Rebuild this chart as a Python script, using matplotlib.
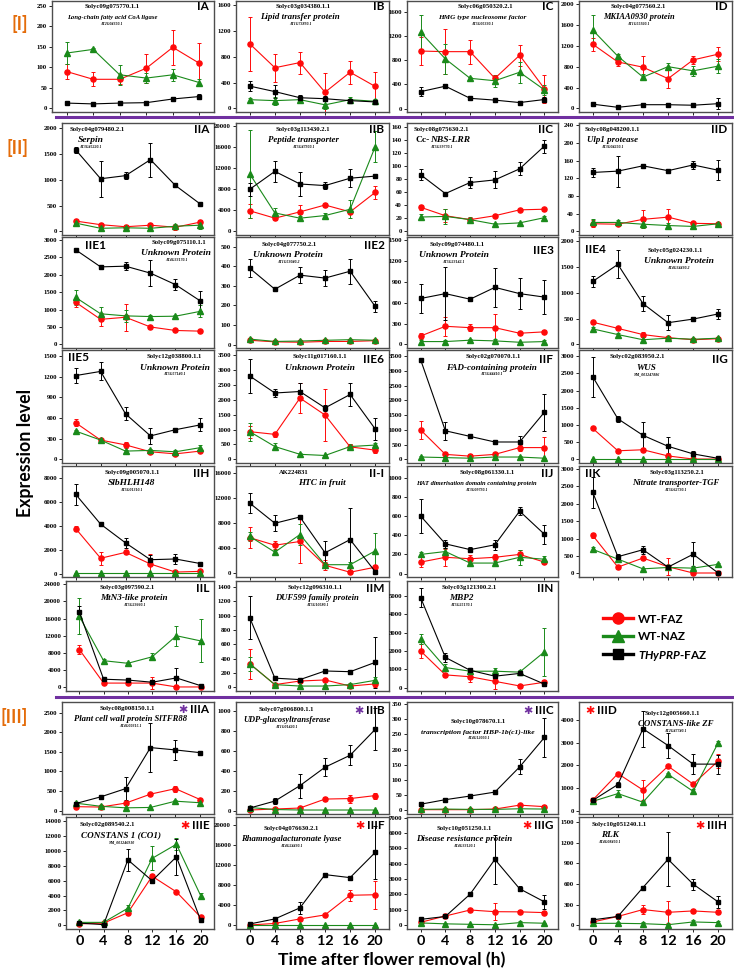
import numpy as np
import matplotlib
matplotlib.use("Agg")
import matplotlib.pyplot as plt
from matplotlib.lines import Line2D

plt.rcParams['mathtext.fontset'] = 'custom'
plt.rcParams['mathtext.it'] = 'Lato:italic:bold'
plt.rcParams['mathtext.rm'] = 'Lato:bold'

HOURS = [0, 4, 8, 12, 16, 20]

# ── Values: mean and error bar per time point ───────────────────────────────
# FAZ = WT-FAZ (red), NAZ = WT-NAZ (green), THY = THyPRP-FAZ (black)
IA_FAZ = [90, 71, 71, 98, 149, 110];          IA_FAZ_E = [18, 17, 12, 35, 42, 50]
IA_NAZ = [135, 144, 82, 74, 82, 63];          IA_NAZ_E = [27, 4, 24, 13, 15, 8]
IA_THY = [13, 11, 13, 14, 23, 29];            IA_THY_E = [3, 2, 3, 4, 4, 5]

IB_FAZ = [1000, 630, 710, 250, 560, 340];     IB_FAZ_E = [420, 220, 170, 300, 180, 230]
IB_NAZ = [135, 120, 135, 55, 135, 110];       IB_NAZ_E = [30, 60, 30, 60, 40, 30]
IB_THY = [345, 260, 165, 150, 120, 100];      IB_THY_E = [80, 100, 40, 40, 20, 20]

IC_FAZ = [950, 940, 940, 500, 880, 330];      IC_FAZ_E = [230, 370, 200, 60, 170, 230]
IC_NAZ = [1260, 820, 500, 460, 600, 310];     IC_NAZ_E = [280, 250, 20, 100, 170, 80]
IC_THY = [280, 370, 170, 140, 100, 150];      IC_THY_E = [80, 30, 20, 20, 30, 40]

ID_FAZ = [1230, 890, 790, 570, 930, 1040];    ID_FAZ_E = [120, 70, 210, 170, 70, 130]
ID_NAZ = [1500, 1000, 600, 800, 720, 810];    ID_NAZ_E = [290, 40, 50, 70, 90, 140]
ID_THY = [80, 20, 70, 70, 60, 90];            ID_THY_E = [30, 20, 20, 20, 20, 100]

IIA_FAZ = [200, 130, 90, 120, 80, 180];       IIA_FAZ_E = [30, 30, 40, 50, 50, 50]
IIA_NAZ = [160, 60, 70, 60, 100, 120];        IIA_NAZ_E = [20, 30, 20, 30, 40, 80]
IIA_THY = [1580, 1020, 1080, 1390, 890, 530]; IIA_THY_E = [60, 350, 70, 330, 20, 20]

IIB_FAZ = [3900, 2500, 3700, 5000, 3700, 7400];     IIB_FAZ_E = [1300, 300, 1400, 300, 300, 1200]
IIB_NAZ = [10900, 3500, 2500, 3000, 4200, 16100];   IIB_NAZ_E = [8300, 1000, 500, 400, 1700, 3000]
IIB_THY = [8000, 11400, 9000, 8700, 10100, 10500];  IIB_THY_E = [1200, 2000, 2300, 700, 1700, 300]

IIC_FAZ = [37, 24, 18, 24, 33, 34];           IIC_FAZ_E = [4, 10, 2, 2, 2, 2]
IIC_NAZ = [22, 23, 18, 11, 13, 21];           IIC_NAZ_E = [4, 12, 4, 2, 2, 2]
IIC_THY = [87, 58, 75, 79, 96, 131];          IIC_THY_E = [8, 2, 8, 13, 10, 10]

IID_FAZ = [17, 16, 27, 32, 18, 17];           IID_FAZ_E = [8, 5, 20, 18, 4, 4]
IID_NAZ = [20, 20, 16, 13, 11, 17];           IID_NAZ_E = [7, 6, 8, 5, 3, 3]
IID_THY = [133, 136, 148, 137, 150, 138];     IID_THY_E = [10, 35, 3, 3, 10, 23]

IIE1_FAZ = [1210, 720, 780, 500, 400, 380];      IIE1_FAZ_E = [130, 180, 390, 30, 20, 20]
IIE1_NAZ = [1350, 880, 820, 800, 810, 950];      IIE1_NAZ_E = [220, 200, 180, 40, 30, 170]
IIE1_THY = [2720, 2230, 2250, 2050, 1720, 1250]; IIE1_THY_E = [20, 50, 120, 370, 150, 280]

IIE2_FAZ = [22, 14, 12, 16, 16, 20];          IIE2_FAZ_E = [5, 5, 10, 5, 5, 5]
IIE2_NAZ = [28, 16, 18, 22, 25, 22];          IIE2_NAZ_E = [5, 5, 5, 5, 5, 5]
IIE2_THY = [390, 283, 355, 340, 375, 195];    IIE2_THY_E = [45, 5, 40, 40, 65, 30]

IIE3_FAZ = [120, 260, 240, 240, 160, 180];    IIE3_FAZ_E = [50, 140, 50, 190, 20, 20]
IIE3_NAZ = [40, 40, 60, 50, 30, 40];          IIE3_NAZ_E = [20, 20, 10, 20, 10, 20]
IIE3_THY = [660, 730, 650, 820, 730, 680];    IIE3_THY_E = [210, 380, 20, 280, 220, 240]

IIE4_FAZ = [430, 310, 190, 130, 90, 110];     IIE4_FAZ_E = [30, 30, 50, 30, 30, 30]
IIE4_NAZ = [300, 190, 90, 120, 100, 120];     IIE4_NAZ_E = [40, 30, 20, 30, 30, 30]
IIE4_THY = [1220, 1550, 790, 420, 490, 590];  IIE4_THY_E = [100, 270, 150, 150, 40, 100]

IIE5_FAZ = [530, 280, 210, 110, 80, 120];     IIE5_FAZ_E = [50, 20, 40, 30, 20, 20]
IIE5_NAZ = [410, 280, 120, 130, 110, 170];    IIE5_NAZ_E = [20, 20, 20, 20, 20, 40]
IIE5_THY = [1215, 1275, 660, 340, 430, 500];  IIE5_THY_E = [105, 130, 95, 120, 20, 95]

IIE6_FAZ = [930, 840, 2060, 1490, 420, 310];     IIE6_FAZ_E = [200, 80, 500, 870, 80, 80]
IIE6_NAZ = [930, 430, 170, 130, 430, 480];       IIE6_NAZ_E = [300, 120, 30, 30, 80, 60]
IIE6_THY = [2800, 2230, 2280, 1730, 2180, 1020]; IIE6_THY_E = [570, 150, 300, 100, 400, 380]

IIF_FAZ = [1000, 170, 110, 170, 400, 400];    IIF_FAZ_E = [300, 80, 60, 60, 100, 350]
IIF_NAZ = [80, 60, 40, 80, 80, 40];           IIF_NAZ_E = [30, 20, 20, 20, 20, 20]
IIF_THY = [3380, 970, 780, 590, 590, 1600];   IIF_THY_E = [30, 300, 50, 80, 200, 630]

IIG_FAZ = [900, 250, 280, 100, 10, 10];       IIG_FAZ_E = [30, 60, 40, 100, 10, 10]
IIG_NAZ = [5, 5, 5, 5, 5, 5];                 IIG_NAZ_E = [5, 5, 5, 5, 5, 5]
IIG_THY = [2400, 1180, 700, 380, 160, 30];    IIG_THY_E = [580, 90, 400, 270, 80, 20]

IIH_FAZ = [3750, 1280, 1770, 800, 130, 190];     IIH_FAZ_E = [200, 550, 100, 800, 100, 100]
IIH_NAZ = [20, 20, 20, 20, 20, 20];              IIH_NAZ_E = [20, 20, 20, 20, 20, 20]
IIH_THY = [6600, 4120, 2560, 1160, 1220, 840];   IIH_THY_E = [900, 150, 400, 400, 450, 100]

II_I_FAZ = [5700, 4500, 5100, 1300, 200, 1000];  II_I_FAZ_E = [1700, 600, 3500, 800, 200, 300]
II_I_NAZ = [5900, 3400, 6200, 1400, 1400, 3600]; II_I_NAZ_E = [700, 400, 1700, 400, 400, 2900]
II_I_THY = [11200, 8000, 9000, 3300, 5400, 300]; II_I_THY_E = [1600, 1300, 300, 1800, 5100, 200]

IIJ_FAZ = [120, 170, 155, 170, 200, 120];     IIJ_FAZ_E = [50, 90, 40, 30, 50, 20]
IIJ_NAZ = [200, 230, 110, 110, 170, 150];     IIJ_NAZ_E = [30, 40, 20, 20, 80, 30]
IIJ_THY = [600, 310, 250, 300, 650, 410];     IIJ_THY_E = [180, 40, 30, 50, 40, 100]

IIK_FAZ = [1090, 180, 440, 190, 10, 10];      IIK_FAZ_E = [60, 60, 60, 250, 10, 10]
IIK_NAZ = [690, 410, 130, 170, 150, 260];     IIK_NAZ_E = [60, 50, 30, 30, 30, 40]
IIK_THY = [2330, 480, 680, 180, 550, 10];     IIK_THY_E = [450, 70, 120, 50, 350, 10]

IIL_FAZ = [8800, 1000, 1000, 1000, 100, 100];       IIL_FAZ_E = [1000, 300, 200, 1300, 100, 100]
IIL_NAZ = [16500, 6200, 5600, 7100, 12000, 10800];  IIL_NAZ_E = [4200, 300, 300, 800, 2300, 5000]
IIL_THY = [17500, 1900, 1700, 1200, 2200, 400];     IIL_THY_E = [1500, 300, 300, 300, 2200, 200]

IIM_FAZ = [330, 40, 90, 105, 20, 50];         IIM_FAZ_E = [210, 20, 20, 20, 20, 40]
IIM_NAZ = [330, 40, 20, 20, 40, 100];         IIM_NAZ_E = [100, 20, 10, 10, 20, 40]
IIM_THY = [970, 130, 110, 230, 220, 350];     IIM_THY_E = [300, 10, 10, 20, 20, 360]

IIN_FAZ = [2000, 700, 600, 350, 100, 300];    IIN_FAZ_E = [400, 100, 300, 400, 100, 100]
IIN_NAZ = [2650, 1100, 900, 900, 850, 1950];  IIN_NAZ_E = [250, 200, 100, 200, 100, 1300]
IIN_THY = [4900, 1650, 950, 630, 780, 200];   IIN_THY_E = [500, 250, 100, 100, 100, 100]

IIIA_FAZ = [100, 90, 190, 420, 560, 280];     IIIA_FAZ_E = [20, 20, 30, 30, 80, 30]
IIIA_NAZ = [190, 110, 70, 80, 240, 200];      IIIA_NAZ_E = [40, 40, 20, 20, 30, 30]
IIIA_THY = [180, 350, 560, 1610, 1550, 1480]; IIIA_THY_E = [30, 30, 290, 620, 250, 30]

IIIB_FAZ = [5, 15, 25, 115, 120, 150];        IIIB_FAZ_E = [5, 5, 10, 20, 40, 30]
IIIB_NAZ = [30, 10, 5, 5, 5, 5];              IIIB_NAZ_E = [10, 5, 3, 3, 3, 3]
IIIB_THY = [25, 95, 250, 435, 555, 815];      IIIB_THY_E = [10, 30, 120, 90, 100, 210]

IIIC_FAZ = [2, 2, 2, 4, 17, 12];              IIIC_FAZ_E = [2, 2, 2, 2, 5, 5]
IIIC_NAZ = [3, 4, 3, 3, 5, 4];                IIIC_NAZ_E = [2, 2, 2, 2, 2, 2]
IIIC_THY = [20, 35, 47, 60, 143, 240];        IIIC_THY_E = [5, 5, 5, 3, 25, 65]

IIID_FAZ = [480, 1640, 920, 1970, 1180, 2200];   IIID_FAZ_E = [60, 60, 430, 60, 60, 300]
IIID_NAZ = [420, 760, 380, 1610, 860, 3000];     IIID_NAZ_E = [60, 150, 40, 60, 100, 60]
IIID_THY = [460, 1160, 3620, 2880, 2060, 2060];  IIID_THY_E = [100, 100, 800, 550, 450, 420]

IIIE_FAZ = [200, 300, 1700, 6600, 4500, 1100];   IIIE_FAZ_E = [100, 100, 300, 300, 100, 200]
IIIE_NAZ = [400, 400, 2300, 9000, 10900, 4000];  IIIE_NAZ_E = [150, 100, 500, 1600, 800, 400]
IIIE_THY = [300, 100, 8800, 6000, 9200, 700];    IIIE_THY_E = [100, 100, 1500, 300, 2400, 100]

IIIF_FAZ = [100, 400, 1300, 2100, 6000, 6100];      IIIF_FAZ_E = [50, 100, 100, 100, 1100, 2800]
IIIF_NAZ = [10, 10, 10, 10, 10, 10];                IIIF_NAZ_E = [10, 10, 10, 10, 10, 10]
IIIF_THY = [300, 1300, 3500, 10100, 9500, 14500];   IIIF_THY_E = [100, 200, 1200, 200, 400, 5200]

IIIG_FAZ = [190, 600, 990, 880, 870, 820];       IIIG_FAZ_E = [50, 50, 150, 550, 100, 100]
IIIG_NAZ = [150, 90, 60, 30, 170, 130];          IIIG_NAZ_E = [50, 40, 30, 30, 80, 40]
IIIG_THY = [380, 570, 2020, 4280, 2370, 1520];   IIIG_THY_E = [100, 80, 100, 1600, 150, 450]

IIIH_FAZ = [50, 130, 230, 190, 210, 190];     IIIH_FAZ_E = [20, 20, 60, 160, 30, 30]
IIIH_NAZ = [30, 30, 25, 10, 50, 40];          IIIH_NAZ_E = [20, 20, 20, 10, 30, 20]
IIIH_THY = [80, 130, 550, 960, 600, 340];     IIIH_THY_E = [30, 30, 20, 390, 80, 90]

SERIES_LABELS = ['WT-FAZ', 'WT-NAZ', r'$\mathit{THyPRP}$-FAZ']

# ── Layout (pixels of the 734 x 969 figure) ─────────────────────────────────
W_PX, H_PX = 734, 969
ROWS = {1: (1, 112), 2: (123, 235), 3: (237, 348), 4: (350, 463),
        5: (466, 577), 6: (581, 691), 7: (702, 814), 8: (817, 929)}
COLS = {1: (62, 214), 2: (236, 389), 3: (407, 558), 4: (579, 732)}

RED, GREEN, BLACK = '#ff0a0a', '#1a8a1a', '#000000'
PURPLE, ORANGE = '#7030a0', '#e46c0a'
SERIF, SANS = 'Liberation Serif', 'Lato'

# key, row, col, data, y top tick, step, ylim factor, gene, name, accession,
# gene x, name x, gene y, name size, label (x, y, ha), star colour
P = [
    ('IA', 1, 1, (IA_FAZ, IA_FAZ_E, IA_NAZ, IA_NAZ_E, IA_THY, IA_THY_E), 250, 50, 1.048,
     'Solyc09g075770.1.1', 'Long-chain fatty acid CoA ligase', 'AT2G04350.1',
     0.37, None, 0.95, 4.8, (0.97, 0.95, 'right'), None),
    ('IB', 1, 2, (IB_FAZ, IB_FAZ_E, IB_NAZ, IB_NAZ_E, IB_THY, IB_THY_E), 1600, 400, 1.04,
     'Solyc03g034380.1.1', 'Lipid transfer protein', 'AT1G73890.1',
     0.44, 0.42, 0.95, 6.4, (0.97, 0.95, 'right'), None),
    ('IC', 1, 3, (IC_FAZ, IC_FAZ_E, IC_NAZ, IC_NAZ_E, IC_THY, IC_THY_E), 1600, 400, 1.11,
     'Solyc06g050320.2.1', 'HMG type nucleosome factor', 'AT5G05330.1',
     0.52, 0.5, 0.95, 5.2, (0.97, 0.95, 'right'), None),
    ('ID', 1, 4, (ID_FAZ, ID_FAZ_E, ID_NAZ, ID_NAZ_E, ID_THY, ID_THY_E), 2000, 400, 1.03,
     'Solyc04g077560.2.1', 'MKIAA0930 protein', 'AT1G55920.1',
     0.39, 0.39, 0.95, 6.0, (0.97, 0.95, 'right'), None),

    ('IIA', 2, 1, (IIA_FAZ, IIA_FAZ_E, IIA_NAZ, IIA_NAZ_E, IIA_THY, IIA_THY_E), 2000, 500, 1.05,
     'Solyc04g079480.2.1', 'Serpin', 'AT3G45220.1',
     0.23, 0.19, 0.94, 6.8, (0.97, 0.94, 'right'), None),
    ('IIB', 2, 2, (IIB_FAZ, IIB_FAZ_E, IIB_NAZ, IIB_NAZ_E, IIB_THY, IIB_THY_E), 20000, 4000, 1.03,
     'Solyc03g113430.2.1', 'Peptide transporter', 'AT5G47900.1',
     0.44, 0.44, 0.94, 6.4, (0.97, 0.94, 'right'), None),
    ('IIC', 2, 3, (IIC_FAZ, IIC_FAZ_E, IIC_NAZ, IIC_NAZ_E, IIC_THY, IIC_THY_E), 160, 20, 1.04,
     'Solyc08g075630.2.1', 'Cc-|NBS-LRR', 'AT5G39770.1',
     0.23, 0.23, 0.94, 6.8, (0.97, 0.94, 'right'), None),
    ('IID', 2, 4, (IID_FAZ, IID_FAZ_E, IID_NAZ, IID_NAZ_E, IID_THY, IID_THY_E), 240, 40, 1.02,
     'Solyc08g048200.1.1', 'Ulp1 protease', 'AT3G04250.1',
     0.22, 0.22, 0.94, 6.4, (0.97, 0.94, 'right'), None),

    ('IIE1', 3, 1, (IIE1_FAZ, IIE1_FAZ_E, IIE1_NAZ, IIE1_NAZ_E, IIE1_THY, IIE1_THY_E), 3000, 500, 1.03,
     'Solyc09g075110.1.1', 'Unknown Protein', 'AT4G33170.1',
     0.77, 0.75, 0.95, 6.8, (0.15, 0.92, 'left'), None),
    ('IIE2', 3, 2, (IIE2_FAZ, IIE2_FAZ_E, IIE2_NAZ, IIE2_NAZ_E, IIE2_THY, IIE2_THY_E), 500, 100, 1.1,
     'Solyc04g077750.2.1', 'Unknown Protein', 'AT1G53040.2',
     0.35, 0.34, 0.93, 6.8, (0.97, 0.92, 'right'), None),
    ('IIE3', 3, 3, (IIE3_FAZ, IIE3_FAZ_E, IIE3_NAZ, IIE3_NAZ_E, IIE3_THY, IIE3_THY_E), 1500, 300, 1.03,
     'Solyc09g074480.1.1', 'Unknown Protein', 'AT5G23142.1',
     0.33, 0.31, 0.93, 6.8, (0.97, 0.88, 'right'), None),
    ('IIE4', 3, 4, (IIE4_FAZ, IIE4_FAZ_E, IIE4_NAZ, IIE4_NAZ_E, IIE4_THY, IIE4_THY_E), 2000, 500, 1.04,
     'Solyc05g024230.1.1', 'Unknown Protein', 'AT4G34430.2',
     0.63, 0.65, 0.88, 6.8, (0.04, 0.89, 'left'), None),

    ('IIE5', 4, 1, (IIE5_FAZ, IIE5_FAZ_E, IIE5_NAZ, IIE5_NAZ_E, IIE5_THY, IIE5_THY_E), 1500, 300, 1.057,
     'Solyc12g038800.1.1', 'Unknown Protein', 'AT5G57140.1',
     0.74, 0.74, 0.94, 6.8, (0.04, 0.93, 'left'), None),
    ('IIE6', 4, 2, (IIE6_FAZ, IIE6_FAZ_E, IIE6_NAZ, IIE6_NAZ_E, IIE6_THY, IIE6_THY_E), 3500, 500, 1.05,
     'Solyc11g017160.1.1', 'Unknown Protein', '',
     0.55, 0.55, 0.94, 6.8, (0.97, 0.92, 'right'), None),
    ('IIF', 4, 3, (IIF_FAZ, IIF_FAZ_E, IIF_NAZ, IIF_NAZ_E, IIF_THY, IIF_THY_E), 3500, 500, 1.06,
     'Solyc02g070070.1.1', 'FAD-containing protein', 'AT5G44410.1',
     0.57, 0.56, 0.94, 6.6, (0.97, 0.92, 'right'), None),
    ('IIG', 4, 4, (IIG_FAZ, IIG_FAZ_E, IIG_NAZ, IIG_NAZ_E, IIG_THY, IIG_THY_E), 3000, 500, 1.06,
     'Solyc02g083950.2.1', 'WUS', 'NM_001247886',
     0.38, 0.44, 0.94, 6.6, (0.97, 0.92, 'right'), None),

    ('IIH', 5, 1, (IIH_FAZ, IIH_FAZ_E, IIH_NAZ, IIH_NAZ_E, IIH_THY, IIH_THY_E), 8000, 2000, 1.12,
     'Solyc09g005070.1.1', 'SlbHLH148', 'AT5G01310.1',
     0.46, 0.46, 0.94, 6.8, (0.97, 0.93, 'right'), None),
    ('II-I', 5, 2, (II_I_FAZ, II_I_FAZ_E, II_I_NAZ, II_I_NAZ_E, II_I_THY, II_I_THY_E), 16000, 4000, 1.07,
     'AK224831', 'HTC in fruit', '',
     0.38, 0.56, 0.94, 6.6, (0.97, 0.93, 'right'), None),
    ('IIJ', 5, 3, (IIJ_FAZ, IIJ_FAZ_E, IIJ_NAZ, IIJ_NAZ_E, IIJ_THY, IIJ_THY_E), 1000, 200, 1.12,
     'Solyc08g061330.1.1', 'HAT dimerisation domain containing protein', 'AT3G09790.1',
     0.53, 0.46, 0.94, 4.7, (0.97, 0.93, 'right'), None),
    ('IIK', 5, 4, (IIK_FAZ, IIK_FAZ_E, IIK_NAZ, IIK_NAZ_E, IIK_THY, IIK_THY_E), 3000, 500, 1.03,
     'Solyc03g113250.2.1', 'Nitrate transporter-TGF', 'AT5G62730.1',
     0.64, 0.63, 0.94, 6.2, (0.04, 0.93, 'left'), None),

    ('IIL', 6, 1, (IIL_FAZ, IIL_FAZ_E, IIL_NAZ, IIL_NAZ_E, IIL_THY, IIL_THY_E), 24000, 4000, 1.03,
     'Solyc03g097590.2.1', 'MtN3-like protein', 'AT5G23660.1',
     0.41, 0.46, 0.94, 6.6, (0.97, 0.93, 'right'), None),
    ('IIM', 6, 2, (IIM_FAZ, IIM_FAZ_E, IIM_NAZ, IIM_NAZ_E, IIM_THY, IIM_THY_E), 1400, 200, 1.06,
     'Solyc12g096310.1.1', 'DUF599 family protein', 'AT5G10580.1',
     0.52, 0.53, 0.94, 6.2, (0.97, 0.93, 'right'), None),
    ('IIN', 6, 3, (IIN_FAZ, IIN_FAZ_E, IIN_NAZ, IIN_NAZ_E, IIN_THY, IIN_THY_E), 5000, 1000, 1.16,
     'Solyc03g121300.2.1', 'MBP2', 'AT5G25170.1',
     0.41, 0.36, 0.94, 6.6, (0.97, 0.93, 'right'), None),

    ('IIIA', 7, 1, (IIIA_FAZ, IIIA_FAZ_E, IIIA_NAZ, IIIA_NAZ_E, IIIA_THY, IIIA_THY_E), 2500, 500, 1.11,
     'Solyc08g008150.1.1', 'Plant cell wall protein SlTFR88', 'AT4G00315.1',
     0.43, 0.45, 0.94, 6.2, (0.97, 0.93, 'right'), PURPLE),
    ('IIIB', 7, 2, (IIIB_FAZ, IIIB_FAZ_E, IIIB_NAZ, IIIB_NAZ_E, IIIB_THY, IIIB_THY_E), 1000, 200, 1.09,
     'Solyc07g006800.1.1', 'UDP-glucosyltransferase', 'AT1G01420.1',
     0.33, 0.33, 0.93, 6.0, (0.97, 0.92, 'right'), PURPLE),
    ('IIIC', 7, 3, (IIIC_FAZ, IIIC_FAZ_E, IIIC_NAZ, IIIC_NAZ_E, IIIC_THY, IIIC_THY_E), 350, 50, 1.02,
     'Solyc10g078670.1.1', 'transcription factor HBP-1b(c1)-like', 'AT4G12050.1',
     0.47, 0.47, 0.83, 5.4, (0.97, 0.92, 'right'), PURPLE),
    ('IIID', 7, 4, (IIID_FAZ, IIID_FAZ_E, IIID_NAZ, IIID_NAZ_E, IIID_THY, IIID_THY_E), 4000, 1000, 1.2,
     'Solyc12g005660.1.1', 'CONSTANS-like ZF', 'AT2G47740.1',
     0.61, 0.63, 0.9, 6.4, (0.12, 0.92, 'left'), RED),

    ('IIIE', 8, 1, (IIIE_FAZ, IIIE_FAZ_E, IIIE_NAZ, IIIE_NAZ_E, IIIE_THY, IIIE_THY_E), 14000, 2000, 1.04,
     'Solyc02g089540.2.1', 'CONSTANS 1 (CO1)', 'NM_001246910',
     0.28, 0.37, 0.93, 6.6, (0.97, 0.92, 'right'), RED),
    ('IIIF', 8, 2, (IIIF_FAZ, IIIF_FAZ_E, IIIF_NAZ, IIIF_NAZ_E, IIIF_THY, IIIF_THY_E), 20000, 4000, 1.077,
     'Solyc04g076630.2.1', 'Rhamnogalacturonate lyase', 'AT4G24430.1',
     0.36, 0.36, 0.9, 6.2, (0.97, 0.92, 'right'), RED),
    ('IIIG', 8, 3, (IIIG_FAZ, IIIG_FAZ_E, IIIG_NAZ, IIIG_NAZ_E, IIIG_THY, IIIG_THY_E), 7000, 1000, 1.005,
     'Solyc10g051250.1.1', 'Disease resistance protein', 'AT4G33120.1',
     0.38, 0.38, 0.9, 6.4, (0.97, 0.92, 'right'), RED),
    ('IIIH', 8, 4, (IIIH_FAZ, IIIH_FAZ_E, IIIH_NAZ, IIIH_NAZ_E, IIIH_THY, IIIH_THY_E), 1500, 300, 1.05,
     'Solyc10g051240.1.1', 'RLK', 'AT4G08450.1',
     0.26, 0.2, 0.93, 6.6, (0.97, 0.92, 'right'), RED),
]

X_LEFT = {'IA': 52, 'IIL': 66, 'IIIE': 66}

fig = plt.figure(figsize=(W_PX / 100, H_PX / 100), dpi=100)
renderer = fig.canvas.get_renderer()


def px_axes(x0, x1, y0, y1):
    return fig.add_axes([x0 / W_PX, 1 - y1 / H_PX, (x1 - x0) / W_PX, (y1 - y0) / H_PX])


def draw_panel(spec):
    (key, row, col, data, top, step, tf, gene, name, acc,
     gx, nx, gy, nfs, lab, star) = spec
    x0, x1 = COLS[col]
    x0 = X_LEFT.get(key, x0)
    y0, y1 = ROWS[row]
    ax = px_axes(x0, x1, y0, y1)

    faz, faz_e, naz, naz_e, thy, thy_e = data
    kw = dict(lw=0.8, elinewidth=0.7, capsize=1.4, capthick=0.7)
    ax.errorbar(HOURS, faz, yerr=faz_e, color=RED, marker='o', ms=3.7, **kw)
    ax.errorbar(HOURS, naz, yerr=naz_e, color=GREEN, marker='^', ms=3.9, **kw)
    ax.errorbar(HOURS, thy, yerr=thy_e, color=BLACK, marker='s', ms=3.3, **kw)

    ax.set_xlim(-2.2, 22.2)
    ax.set_ylim(-0.035 * top, tf * top)
    ax.set_xticks(HOURS)
    ax.set_yticks(np.arange(0, top + step / 2, step))
    ax.tick_params(axis='y', length=2, width=0.6, pad=1.5, labelsize=4.9)
    ax.tick_params(axis='x', length=2.2, width=0.6, pad=2)
    for t in ax.get_yticklabels():
        t.set_fontfamily(SERIF)
        t.set_fontweight('bold')
    if row == 8:
        ax.set_xticklabels([str(h) for h in HOURS], fontfamily=SANS,
                           fontweight='bold', fontsize=10.4)
    else:
        ax.set_xticklabels([])
    for s in ax.spines.values():
        s.set_color('#4d4d4d')
        s.set_linewidth(1.0)

    tr = ax.transAxes
    ax.text(gx, gy, gene, transform=tr, ha='center', va='center',
            fontfamily=SERIF, fontweight='bold', fontsize=4.8)
    ny = gy - 0.095
    nx = gx if nx is None else nx
    if '|' in name:
        up, it = name.split('|')
        xm = nx - 0.08
        ax.text(xm, ny, up, transform=tr, ha='right', va='center',
                fontfamily=SERIF, fontweight='bold', fontsize=nfs)
        ax.text(xm, ny, it, transform=tr, ha='left', va='center',
                fontfamily=SERIF, fontweight='bold', style='italic', fontsize=nfs)
    else:
        ax.text(nx, ny, name, transform=tr, ha='center', va='center',
                fontfamily=SERIF, fontweight='bold', style='italic', fontsize=nfs)
    if acc:
        ax.text(nx, ny - 0.06, acc, transform=tr, ha='center', va='center',
                fontfamily=SERIF, fontweight='bold', style='italic', fontsize=2.8)

    lx, ly, lha = lab
    t = ax.text(lx, ly, key, transform=tr, ha=lha, va='center',
                fontfamily=SANS, fontweight='bold', fontsize=8.5)
    if star is not None:
        # asterisk sits just left of the panel label
        bb = t.get_window_extent(renderer)
        sx = tr.inverted().transform((bb.x0 - 2.5, 0))[0]
        ax.text(sx, ly, '\u2731', transform=tr, ha='right', va='center',
                fontfamily='DejaVu Sans', color=star, fontsize=8)


for spec in P:
    draw_panel(spec)

# purple separators between the three groups
for yy in (117, 697):
    fig.add_artist(Line2D([56 / W_PX, 1.0], [1 - yy / H_PX] * 2,
                          color=PURPLE, lw=2.2, transform=fig.transFigure))

# section labels
for txt, (sx, sy) in zip(['[I]', '[II]', '[III]'], [(20, 24), (18, 148), (14, 717)]):
    fig.text(sx / W_PX, 1 - sy / H_PX, txt, ha='center', va='center',
             fontfamily=SANS, fontweight='bold', fontsize=13, color=ORANGE)

fig.text(26 / W_PX, 1 - 453 / H_PX, 'Expression level', rotation=90,
         ha='center', va='center', fontfamily=SANS, fontweight='bold', fontsize=12.8)
fig.text(392 / W_PX, 1 - 960 / H_PX, 'Time after flower removal (h)',
         ha='center', va='center', fontfamily=SANS, fontweight='bold', fontsize=12.6)

handles = [
    Line2D([], [], color=RED, marker='o', ms=8, lw=2.4),
    Line2D([], [], color=GREEN, marker='^', ms=8.5, lw=2.4),
    Line2D([], [], color=BLACK, marker='s', ms=7, lw=2.4),
]
fig.legend(handles, SERIES_LABELS, loc='upper left',
           bbox_to_anchor=(592 / W_PX, 1 - 603 / H_PX), frameon=False,
           handlelength=2.6, labelspacing=0.55, handletextpad=0.4,
           prop=dict(family=SANS, weight='bold', size=8.5))

fig.savefig('out.png', dpi=100)
